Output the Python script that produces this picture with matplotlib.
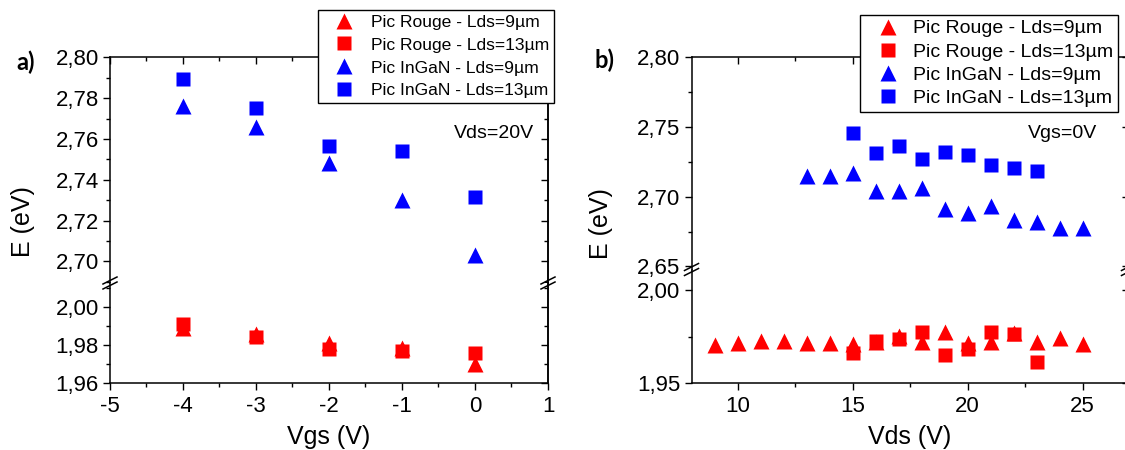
import matplotlib.pyplot as plt
from matplotlib.ticker import MultipleLocator, FuncFormatter
from matplotlib.lines import Line2D

plt.rcParams['font.family'] = ['Liberation Sans', 'DejaVu Sans']
plt.rcParams['axes.unicode_minus'] = False

# === Data: panel a) E vs Vgs, Vds=20V ===
vgs = [-4, -3, -2, -1, 0]
rouge_9_a = [1.9887, 1.9858, 1.9808, 1.9787, 1.9700]
rouge_13_a = [1.9910, 1.9840, 1.9780, 1.9770, 1.9757]
ingan_9_a = [2.7760, 2.7660, 2.7480, 2.7300, 2.7033]
ingan_13_a = [2.7894, 2.7750, 2.7565, 2.7542, 2.7314]

# === Data: panel b) E vs Vds, Vgs=0V ===
vds_rouge_9 = [9, 10, 11, 12, 13, 14, 15, 16, 17, 18, 19, 20, 21, 22, 23, 24, 25]
rouge_9_b = [1.9705, 1.9714, 1.9726, 1.9726, 1.9716, 1.9716, 1.9712, 1.9720, 1.9756,
             1.9719, 1.9777, 1.9714, 1.9719, 1.9768, 1.9723, 1.9744, 1.9712]
vds_rouge_13 = [15, 16, 17, 18, 19, 20, 21, 22, 23]
rouge_13_b = [1.9663, 1.9725, 1.9739, 1.9777, 1.9653, 1.9684, 1.9777, 1.9766, 1.9614]
vds_ingan_9 = [13, 14, 15, 16, 17, 18, 19, 20, 21, 22, 23, 24, 25]
ingan_9_b = [2.7146, 2.7146, 2.7168, 2.7039, 2.7040, 2.7060, 2.6910, 2.6880, 2.6930,
             2.6835, 2.6816, 2.6775, 2.6775]
vds_ingan_13 = [15, 16, 17, 18, 19, 20, 21, 22, 23]
ingan_13_b = [2.7455, 2.7316, 2.7364, 2.7270, 2.7318, 2.7297, 2.7230, 2.7206, 2.7182]

labels = ["Pic Rouge - Lds=9µm", "Pic Rouge - Lds=13µm",
          "Pic InGaN - Lds=9µm", "Pic InGaN - Lds=13µm"]

RED = '#ff0000'
BLUE = '#0000ff'
W, H = 1125, 450

fig = plt.figure(figsize=(11.25, 4.5), dpi=100)


def fx(px):
    return px / W


def fy(py):
    return 1 - py / H


comma = FuncFormatter(lambda v, p: f"{v:.2f}".replace('.', ','))


def make_panel(x0, x1, ytop, ybreak, ybot, xlim, ylim_top, ylim_bot,
               xmaj, xmin, ymaj, ymin):
    ax_t = fig.add_axes([fx(x0), fy(ybreak), fx(x1 - x0), (ybreak - ytop) / H])
    ax_b = fig.add_axes([fx(x0), fy(ybot), fx(x1 - x0), (ybot - ybreak) / H])
    for ax, yl in ((ax_t, ylim_top), (ax_b, ylim_bot)):
        ax.set_xlim(*xlim)
        ax.set_ylim(*yl)
        ax.xaxis.set_major_locator(MultipleLocator(xmaj))
        ax.xaxis.set_minor_locator(MultipleLocator(xmin))
        ax.yaxis.set_major_locator(MultipleLocator(ymaj))
        ax.yaxis.set_minor_locator(MultipleLocator(ymin))
        ax.yaxis.set_major_formatter(comma)
        ax.tick_params(axis='y', which='both', direction='out', left=True,
                       right=False, labelsize=16, pad=3)
        ax.tick_params(which='major', length=5, width=1)
        ax.tick_params(which='minor', length=3, width=1)
        for s in ax.spines.values():
            s.set_linewidth(1.1)
        sec = ax.secondary_yaxis('right')
        sec.yaxis.set_major_locator(MultipleLocator(ymaj))
        sec.yaxis.set_minor_locator(MultipleLocator(ymin))
        sec.tick_params(which='both', direction='in', labelright=False)
        sec.tick_params(which='major', length=5, width=1)
        sec.tick_params(which='minor', length=3, width=1)
        sec.spines['right'].set_linewidth(1.1)
    ax_t.spines['bottom'].set_visible(False)
    ax_t.tick_params(axis='x', which='both', bottom=False, top=True,
                     labelbottom=False, direction='in')
    ax_b.spines['top'].set_visible(False)
    ax_b.tick_params(axis='x', which='both', bottom=True, top=False,
                     direction='out', labelsize=16, pad=4)
    ax_b.xaxis.set_major_formatter(FuncFormatter(lambda v, p: f"{v:g}"))
    # break marks
    for bx in (x0, x1):
        for dy in (-2.5, 2.5):
            fig.add_artist(Line2D([fx(bx - 7), fx(bx + 7)],
                                  [fy(ybreak + dy + 3.5), fy(ybreak + dy - 3.5)],
                                  color='black', lw=1.1))
    return ax_t, ax_b


leg_kw = dict(loc='upper left', bbox_transform=fig.transFigure,
              frameon=True, fancybox=False, framealpha=1, edgecolor='black',
              borderpad=0.25, borderaxespad=0, numpoints=1)

# === Panel a) ===
at, ab = make_panel(110, 548, 57.3, 283, 383.3, (-5, 1),
                    (2.6894, 2.80), (1.96, 2.0124), 1, 0.5, 0.02, 0.01)
h1, = ab.plot(vgs, rouge_9_a, '^', color=RED, ms=12, mec='none', label=labels[0])
h2, = ab.plot(vgs, rouge_13_a, 's', color=RED, ms=10.5, mec='none', label=labels[1])
h3, = at.plot(vgs, ingan_9_a, '^', color=BLUE, ms=12, mec='none', label=labels[2])
h4, = at.plot(vgs, ingan_13_a, 's', color=BLUE, ms=10.5, mec='none', label=labels[3])
ab.set_xlabel("Vgs (V)", fontsize=18, labelpad=6)
fig.text(fx(23), fy(222), "E (eV)", rotation=90, fontsize=18, ha='center', va='center')
fig.text(fx(534), fy(133), "Vds=20V", fontsize=14, ha='right', va='center')
fig.text(fx(26), fy(62), "a)", fontsize=17, fontweight='bold', family='Lato',
         ha='center', va='center')
lg = fig.legend(handles=[h1, h2, h3, h4], bbox_to_anchor=(fx(318), fy(10)),
                fontsize=12.6, labelspacing=0.44, handlelength=2.45,
                handletextpad=0.35, **leg_kw)
lg.get_frame().set_linewidth(1.0)

# === Panel b) ===
bt, bb = make_panel(691.5, 1128.5, 57.3, 269.5, 383.3, (8, 27),
                    (2.6478, 2.80), (1.95, 2.011), 5, 2.5, 0.05, 0.025)
g1, = bb.plot(vds_rouge_9, rouge_9_b, '^', color=RED, ms=12, mec='none', label=labels[0])
g2, = bb.plot(vds_rouge_13, rouge_13_b, 's', color=RED, ms=10.5, mec='none', label=labels[1])
g3, = bt.plot(vds_ingan_9, ingan_9_b, '^', color=BLUE, ms=12, mec='none', label=labels[2])
g4, = bt.plot(vds_ingan_13, ingan_13_b, 's', color=BLUE, ms=10.5, mec='none', label=labels[3])
bb.set_xlabel("Vds (V)", fontsize=18, labelpad=6)
fig.text(fx(601), fy(224), "E (eV)", rotation=90, fontsize=18, ha='center', va='center')
fig.text(fx(1097), fy(133), "Vgs=0V", fontsize=14, ha='right', va='center')
fig.text(fx(605), fy(60), "b)", fontsize=17, fontweight='bold', family='Lato',
         ha='center', va='center')
lg2 = fig.legend(handles=[g1, g2, g3, g4], bbox_to_anchor=(fx(860), fy(15)),
                 fontsize=14, labelspacing=0.29, handlelength=2.35,
                 handletextpad=0.15, **leg_kw)
lg2.get_frame().set_linewidth(1.0)

fig.savefig('out.png', dpi=100)
